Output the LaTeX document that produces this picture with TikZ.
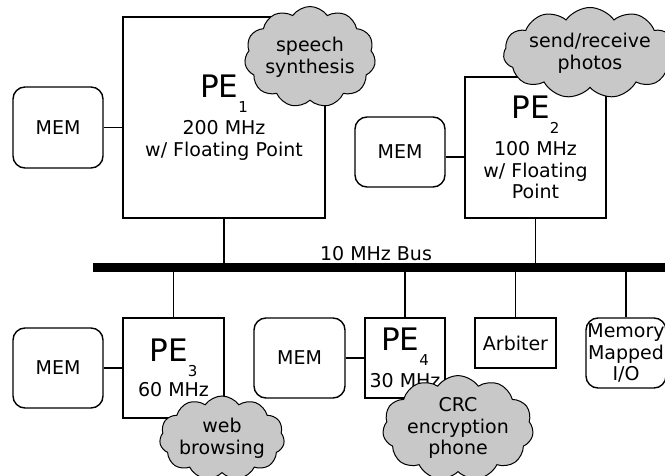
\documentclass[tikz,border=0pt]{standalone}
\usepackage{fontspec}
\setmainfont{DejaVu Sans}
\usetikzlibrary{shapes.symbols}
\definecolor{cloudgray}{RGB}{200,200,200}
\newcommand{\fs}{\fontsize{19pt}{21.8pt}\selectfont}
\newcommand{\pename}[1]{{\fontsize{31pt}{31pt}\selectfont PE}\smash{\raisebox{-15pt}{\fontsize{15pt}{15pt}\selectfont #1}}}
\tikzset{
  box/.style={draw, line width=1.4pt, rectangle, inner sep=0pt, align=center, font=\fs},
  membox/.style={box, rounded corners=12pt},
  cloudy/.style={cloud, cloud puffs=11, cloud puff arc=110, cloud ignores aspect, draw, fill=cloudgray, line width=1pt, align=center, inner sep=0pt, font=\fs},
  link/.style={line width=1.4pt},
  busline/.style={line width=9pt},
}
\begin{document}
\begin{tikzpicture}[x=1pt,y=-1pt]
\path[use as bounding box] (0,0) rectangle (665,476);
\clip (0,0) rectangle (665,476);

% boxes
\node[membox, minimum width=90pt, minimum height=81pt] (mem1) at (58,127.5) {MEM};
\node[box, minimum width=202pt, minimum height=201pt] (pe1) at (224,117.5) {\pename{1}\\[15pt]200 MHz\\w/ Floating Point};
\node[membox, minimum width=90pt, minimum height=70pt] (mem2) at (400,152) {MEM};
\node[box, minimum width=141pt, minimum height=141pt] (pe2) at (535.5,147.5) {\pename{2}\\[15pt]100 MHz\\w/ Floating\\Point};

\node[membox, minimum width=90pt, minimum height=80pt] (mem3) at (58,368) {MEM};
\node[box, minimum width=101pt, minimum height=100pt] (pe3) at (173.5,368) {\pename{3}\\[13pt]60 MHz};
\node[membox, minimum width=91pt, minimum height=80pt] (mem4) at (299.5,358) {MEM};
\node[box, minimum width=80pt, minimum height=80pt] (pe4) at (405,358) {\pename{4}\\[15pt]30 MHz};
\node[box, minimum width=81pt, minimum height=50pt] (arb) at (515.5,343) {Arbiter};
\node[membox, minimum width=80pt, minimum height=70pt] (mmio) at (626,353) {Memory\\Mapped\\I/O};

% bus
\coordinate (busL) at (93,268);
\coordinate (busR) at (680,268);
\draw[busline] (busL) -- (busR);
\node[font=\fs, inner sep=0pt] (buslabel) at (376,254) {10 MHz Bus};

% connectors
\draw[link] (mem1.east) -- (pe1.west |- mem1.east);
\draw[link] ([yshift=-5pt]mem2.east) coordinate (m2c) -- (m2c -| pe2.west);
\draw[link] (mem3.east) -- (pe3.west |- mem3.east);
\draw[link] (mem4.east) -- (pe4.west |- mem4.east);
\draw[link] (pe1.south) -- (pe1.south |- busL);
\draw[link] (pe2.south) -- (pe2.south |- busL);
\draw[link] (pe3.north) -- (pe3.north |- busL);
\draw[link] (pe4.north) -- (pe4.north |- busL);
\draw[link] (arb.north) -- (arb.north |- busL);
\draw[link] (mmio.north) -- (mmio.north |- busL);

% clouds
\node[cloudy, minimum width=131pt, minimum height=101pt] (speech) at (310,57) {speech\\synthesis};
\node[cloudy, minimum width=152pt, minimum height=91pt] (photos) at (590,53) {send/receive\\photos};
\node[cloudy, minimum width=124pt, minimum height=84pt] (web) at (222,438) {web\\browsing};
\node[cloudy, minimum width=138pt, minimum height=84pt] (crc) at (458,428) {CRC\\encryption\\phone};
\end{tikzpicture}
\end{document}
